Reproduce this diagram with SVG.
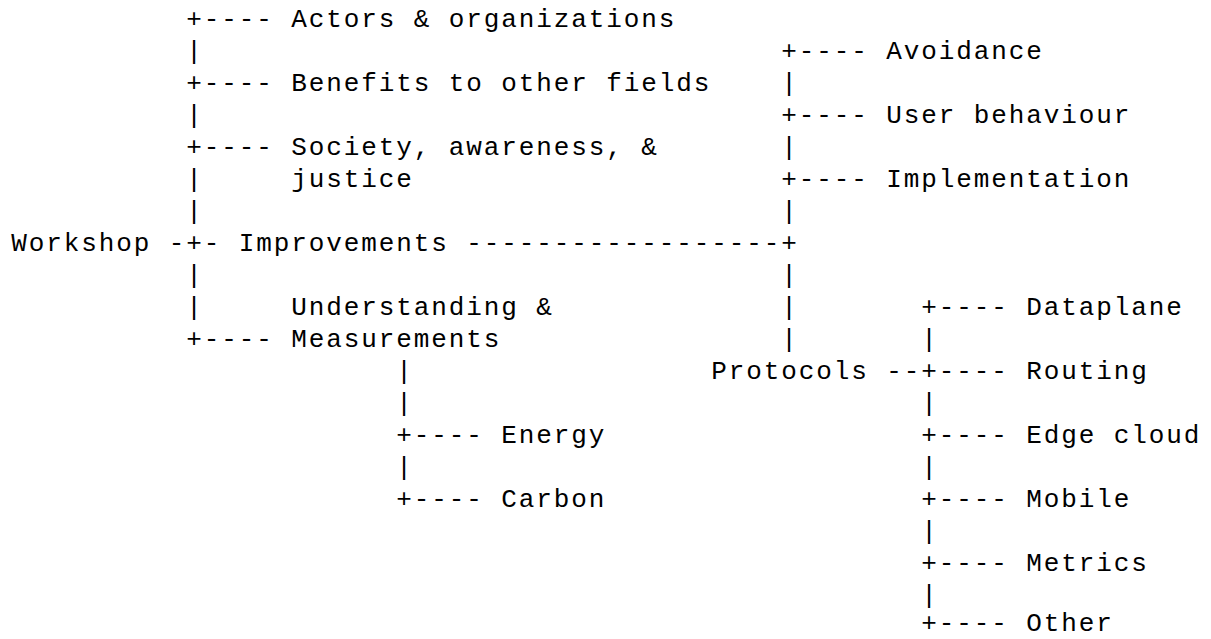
<svg xmlns="http://www.w3.org/2000/svg" width="1211" height="639" viewBox="0 0 1211 639">
<style>
text{font-family:"Courier New","Nimbus Mono PS","Liberation Mono",monospace;font-size:26px;letter-spacing:1.9px;fill:#000;white-space:pre}
</style>
<rect width="1211" height="639" fill="#fff"/>
<g id="connectors">
<text x="186.25" y="27.3">+----</text>
<text x="186.25" y="59.3">|</text>
<text x="781.25" y="59.3">+----</text>
<text x="186.25" y="91.3">+----</text>
<text x="781.25" y="91.3">|</text>
<text x="186.25" y="123.3">|</text>
<text x="781.25" y="123.3">+----</text>
<text x="186.25" y="155.3">+----</text>
<text x="781.25" y="155.3">|</text>
<text x="186.25" y="187.3">|</text>
<text x="781.25" y="187.3">+----</text>
<text x="186.25" y="219.3">|</text>
<text x="781.25" y="219.3">|</text>
<text x="168.75" y="251.3">-+-</text>
<text x="466.25" y="251.3">------------------+</text>
<text x="186.25" y="283.3">|</text>
<text x="781.25" y="283.3">|</text>
<text x="186.25" y="315.3">|</text>
<text x="781.25" y="315.3">|</text>
<text x="921.25" y="315.3">+----</text>
<text x="186.25" y="347.3">+----</text>
<text x="781.25" y="347.3">|</text>
<text x="921.25" y="347.3">|</text>
<text x="396.25" y="379.3">|</text>
<text x="886.25" y="379.3">--+----</text>
<text x="396.25" y="411.3">|</text>
<text x="921.25" y="411.3">|</text>
<text x="396.25" y="443.3">+----</text>
<text x="921.25" y="443.3">+----</text>
<text x="396.25" y="475.3">|</text>
<text x="921.25" y="475.3">|</text>
<text x="396.25" y="507.3">+----</text>
<text x="921.25" y="507.3">+----</text>
<text x="921.25" y="539.3">|</text>
<text x="921.25" y="571.3">+----</text>
<text x="921.25" y="602.5">|</text>
<text x="921.25" y="631">+----</text>
</g>
<g id="workshop"><text x="11.25" y="251.3">Workshop</text></g>
<g id="actors"><text x="291.25" y="27.3">Actors &amp; organizations</text></g>
<g id="benefits"><text x="291.25" y="91.3">Benefits to other fields</text></g>
<g id="society"><text x="291.25" y="155.3">Society, awareness, &amp;</text><text x="291.25" y="187.3">justice</text></g>
<g id="improvements"><text x="238.75" y="251.3">Improvements</text></g>
<g id="understanding"><text x="291.25" y="315.3">Understanding &amp;</text><text x="291.25" y="347.3">Measurements</text></g>
<g id="energy"><text x="501.25" y="443.3">Energy</text></g>
<g id="carbon"><text x="501.25" y="507.3">Carbon</text></g>
<g id="avoidance"><text x="886.25" y="59.3">Avoidance</text></g>
<g id="user-behaviour"><text x="886.25" y="123.3">User behaviour</text></g>
<g id="implementation"><text x="886.25" y="187.3">Implementation</text></g>
<g id="protocols"><text x="711.25" y="379.3">Protocols</text></g>
<g id="dataplane"><text x="1026.25" y="315.3">Dataplane</text></g>
<g id="routing"><text x="1026.25" y="379.3">Routing</text></g>
<g id="edge-cloud"><text x="1026.25" y="443.3">Edge cloud</text></g>
<g id="mobile"><text x="1026.25" y="507.3">Mobile</text></g>
<g id="metrics"><text x="1026.25" y="571.3">Metrics</text></g>
<g id="other"><text x="1026.25" y="631">Other</text></g>
</svg>
